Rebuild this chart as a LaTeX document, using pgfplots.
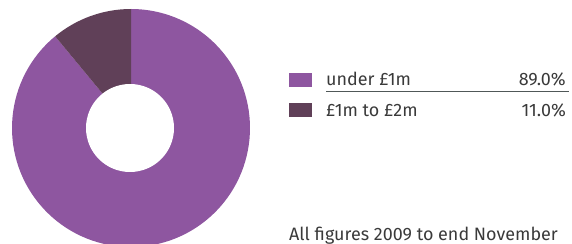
\documentclass[border=0pt]{standalone}
\usepackage{fontspec}
\setmainfont{Fira Sans}
\usepackage{pgfplots}
\pgfplotsset{compat=1.18}
\definecolor{pA}{HTML}{8E56A0}
\definecolor{pB}{HTML}{604058}
\definecolor{txt}{HTML}{3A3A3A}
\definecolor{rule}{HTML}{505858}
% shares (percent)
\def\shareA{89.0}
\def\shareB{11.0}
\pgfmathsetmacro\angB{90+3.6*\shareB}
\begin{document}
\begin{tikzpicture}
\begin{axis}[width=572bp,height=244bp,scale only axis,hide axis,
  xmin=-131,xmax=441,ymin=-116,ymax=128,clip=true]
\fill[pA] (axis cs:0,0) -- ++(\angB:119bp) arc[start angle=\angB, end angle=450, radius=119bp] -- cycle;
\fill[pB] (axis cs:0,0) -- ++(90:119bp) arc[start angle=90, end angle=\angB, radius=119bp] -- cycle;
\fill[white] (axis cs:-1,0) circle[radius=44bp];
\begin{scope}[every node/.style={inner sep=0pt,text=txt,font=\fontsize{18}{21}\selectfont}]
\fill[pA] (axis cs:158,41) rectangle (axis cs:181,55);
\fill[pB] (axis cs:158,11) rectangle (axis cs:181,25);
\node[anchor=base west] at (axis cs:195,42) {under £1m};
\node[anchor=base east] at (axis cs:435,42) {\shareA\%};
\draw[rule, line width=1bp] (axis cs:195,36) -- (axis cs:437.5,36);
\node[anchor=base west] at (axis cs:195,11) {£1m to £2m};
\node[anchor=base east] at (axis cs:435,11) {\shareB\%};
\node[anchor=base west] at (axis cs:158,-112) {All figures 2009 to end November};
\end{scope}
\end{axis}
\pgfresetboundingbox
\path (current axis.south west) rectangle (current axis.north east);
\end{tikzpicture}
\end{document}
